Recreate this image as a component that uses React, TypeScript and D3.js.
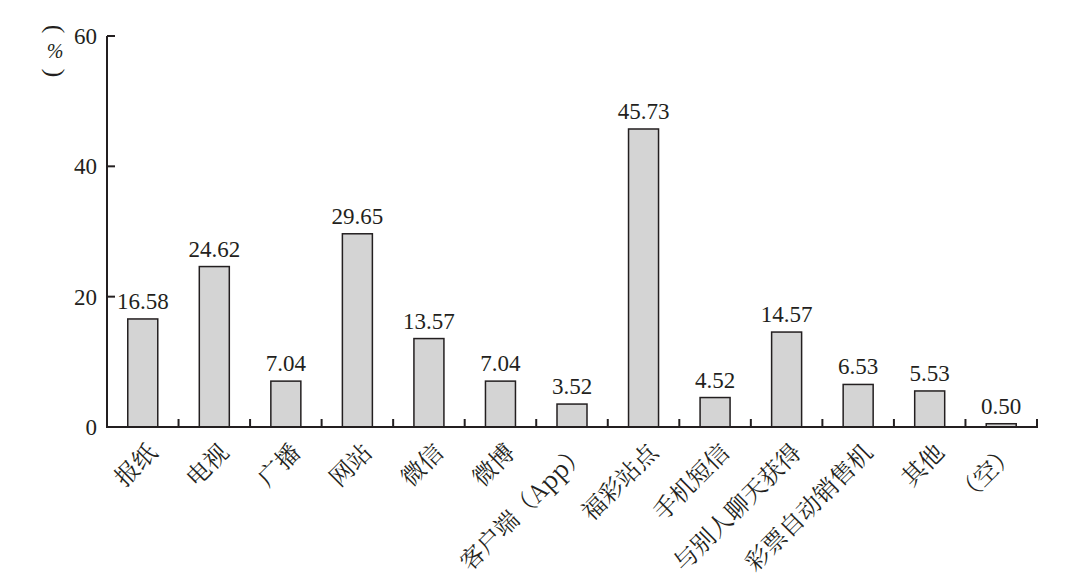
import React from "react";
import * as d3 from "d3";

const categories = ["报纸", "电视", "广播", "网站", "微信", "微博", "客户端（App）", "福彩站点", "手机短信", "与别人聊天获得", "彩票自动销售机", "其他", "（空）"];
const values = [16.58, 24.62, 7.04, 29.65, 13.57, 7.04, 3.52, 45.73, 4.52, 14.57, 6.53, 5.53, 0.5];
const yTicks = [0, 20, 40, 60];

const W = 1076, H = 587;
const x0 = 107, x1 = 1037, yTop = 36, yBot = 427;
const serif = "Liberation Serif";
const cjk = "Noto Serif CJK SC";
const ink = "#231f20";

export default function App() {
  const x = d3.scaleBand<string>().domain(categories).range([x0, x1]).paddingInner(0).paddingOuter(0);
  const y = d3.scaleLinear().domain([0, 60]).range([yBot, yTop]);
  const bw = 30;
  const step = x.step();
  return (
    <svg width={W} height={H} style={{ position: "absolute", left: 0, top: 0, background: "#fff" }}>
      {categories.map((c, i) => {
        const cx = (x(c) as number) + step / 2;
        return (
          <g key={c}>
            <rect x={cx - bw / 2} y={y(values[i])} width={bw} height={yBot - y(values[i])} fill="#d4d4d4" stroke={ink} strokeWidth={1.5} />
            <text x={cx} y={y(values[i]) - 10} textAnchor="middle" style={{ fontFamily: serif }} fontSize={23} fill={ink}>
              {values[i].toFixed(2)}
            </text>
            <text transform={`translate(${cx + 16},${yBot + 27}) rotate(-45)`} textAnchor="end" style={{ fontFamily: cjk }} fontSize={24} fill={ink}>
              {c}
            </text>
          </g>
        );
      })}
      <line x1={x0} x2={x0} y1={yTop} y2={yBot} stroke={ink} strokeWidth={2} />
      <line x1={x0 - 1} x2={x1 + 1} y1={yBot} y2={yBot} stroke={ink} strokeWidth={2} />
      {yTicks.map((t) => (
        <g key={t}>
          <line x1={x0} x2={x0 + 8} y1={y(t)} y2={y(t)} stroke={ink} strokeWidth={2} />
          <text x={x0 - 10} y={y(t)} dy="0.35em" textAnchor="end" style={{ fontFamily: serif }} fontSize={23} fill={ink}>
            {t}
          </text>
        </g>
      ))}
      {categories.map((c) => {
        const bx = (x(c) as number) + step;
        return <line key={"t" + c} x1={bx} x2={bx} y1={yBot} y2={yBot - 8} stroke={ink} strokeWidth={2} />;
      })}
      <g fill={ink} style={{ fontFamily: serif }}>
        <g transform="translate(55,29) rotate(90)">
          <text x={0} y={0} textAnchor="middle" dominantBaseline="central" fontSize={26}>(</text>
        </g>
        <text x={55} y={51} textAnchor="middle" dominantBaseline="central" fontSize={20} fontStyle="italic">%</text>
        <g transform="translate(55,73) rotate(90)">
          <text x={0} y={0} textAnchor="middle" dominantBaseline="central" fontSize={26}>)</text>
        </g>
      </g>
    </svg>
  );
}
